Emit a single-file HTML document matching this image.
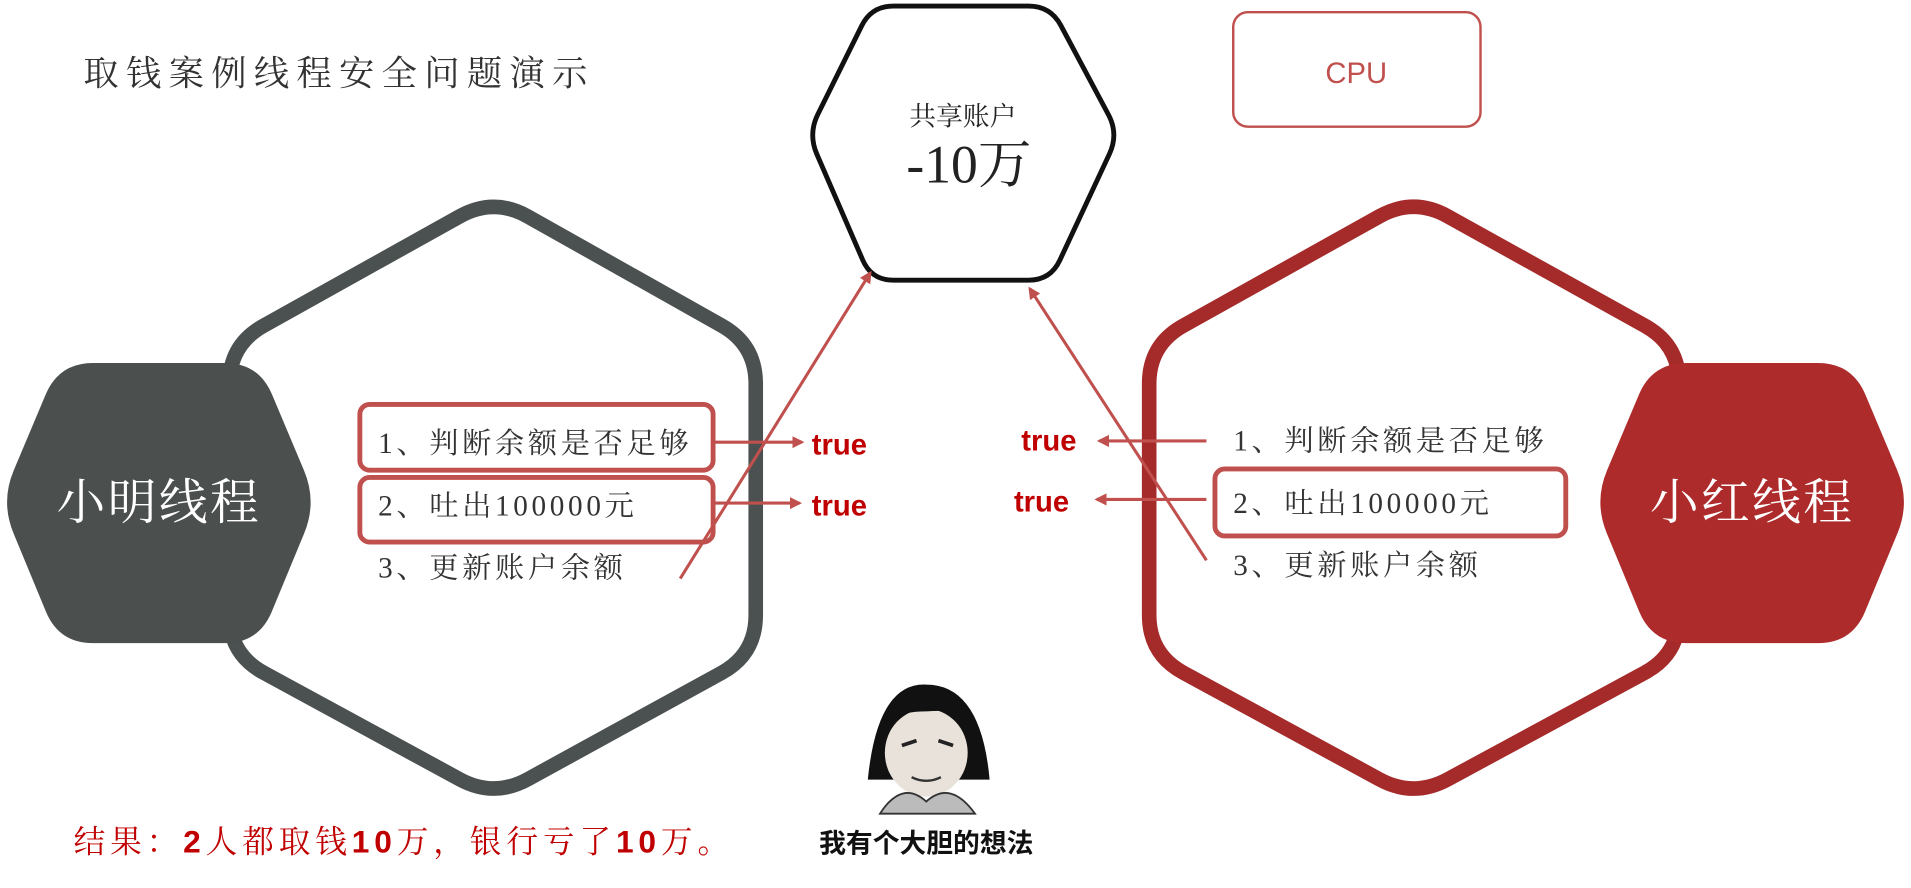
<!DOCTYPE html>
<html><head><meta charset="utf-8"><style>
html,body{margin:0;padding:0;background:#fff;}
svg{display:block;}
text{font-family:"Liberation Sans","Noto Sans CJK SC",sans-serif;}
.s{font-family:"Liberation Serif","Noto Serif CJK SC",serif;}
</style></head><body>
<svg width="1911" height="888" viewBox="0 0 1568 729" xmlns="http://www.w3.org/2000/svg">
<defs>
<marker id="a" markerWidth="10" markerHeight="10" refX="8" refY="5" orient="auto" markerUnits="userSpaceOnUse">
<path d="M0,0 L10,5 L0,10 z" fill="#c0504d"/></marker>
</defs>
<text x="68" y="70" font-size="29" fill="#333" class="s" letter-spacing="6">取钱案例线程安全问题演示</text>
<path class="rh" data-r="18" data-p="663,110 715,5 862,5 918,110 862,230 715,230" fill="#fff" stroke="#111" stroke-width="4"/>
<text x="790" y="103" font-size="22" text-anchor="middle" class="s" fill="#222">共享账户</text>
<text x="795" y="150" font-size="44" text-anchor="middle" class="s" fill="#222">-10万</text>
<rect x="1012" y="10" width="203" height="94" rx="12" fill="#fff" stroke="#c0504d" stroke-width="2"/>
<text x="1113" y="68" font-size="24" text-anchor="middle" fill="#c0504d">CPU</text>
<path class="rh" data-r="32" data-p="405,162 620,283 620,537 405,655 188,537 188,283" fill="none" stroke="#4b5150" stroke-width="12"/>
<path class="rh" data-r="28" data-p="0,412 48,298 212,298 260,412 212,528 48,528" fill="#4b4f4e"/>
<text x="130" y="426" font-size="40" text-anchor="middle" fill="#fff" class="s" letter-spacing="2">小明线程</text>
<path class="rh" data-r="32" data-p="1160,162 1378,283 1378,537 1160,655 943,537 943,283" fill="none" stroke="#a52a2a" stroke-width="12"/>
<path class="rh" data-r="28" data-p="1308,412 1356,298 1520,298 1568,412 1520,528 1356,528" fill="#ad2b2b"/>
<text x="1438" y="426" font-size="40" text-anchor="middle" fill="#fff" class="s" letter-spacing="2">小红线程</text>
<rect x="295" y="332" width="290" height="54" rx="8" fill="none" stroke="#c0504d" stroke-width="4"/>
<rect x="295" y="392" width="290" height="53" rx="8" fill="none" stroke="#c0504d" stroke-width="4"/>
<text x="310" y="372" font-size="24" class="s" fill="#333" letter-spacing="3">1、判断余额是否足够</text>
<text x="310" y="423" font-size="24" class="s" fill="#333" letter-spacing="3">2、吐出100000元</text>
<text x="310" y="474" font-size="24" class="s" fill="#333" letter-spacing="3">3、更新账户余额</text>
<line x1="585" y1="363" x2="658" y2="363" stroke="#c0504d" stroke-width="2.5" marker-end="url(#a)"/>
<line x1="585" y1="413" x2="656" y2="413" stroke="#c0504d" stroke-width="2.5" marker-end="url(#a)"/>
<text x="666" y="373" font-size="24" font-weight="bold" fill="#c00000">true</text>
<text x="666" y="423" font-size="24" font-weight="bold" fill="#c00000">true</text>
<line x1="558" y1="475" x2="714" y2="224" stroke="#c0504d" stroke-width="2.5" marker-end="url(#a)"/>
<rect x="997" y="385" width="288" height="55" rx="8" fill="none" stroke="#c0504d" stroke-width="4"/>
<text x="1012" y="370" font-size="24" class="s" fill="#333" letter-spacing="3">1、判断余额是否足够</text>
<text x="1012" y="421" font-size="24" class="s" fill="#333" letter-spacing="3">2、吐出100000元</text>
<text x="1012" y="472" font-size="24" class="s" fill="#333" letter-spacing="3">3、更新账户余额</text>
<line x1="990" y1="362" x2="902" y2="362" stroke="#c0504d" stroke-width="2.5" marker-end="url(#a)"/>
<line x1="990" y1="410" x2="900" y2="410" stroke="#c0504d" stroke-width="2.5" marker-end="url(#a)"/>
<text x="838" y="370" font-size="24" font-weight="bold" fill="#c00000">true</text>
<text x="832" y="420" font-size="24" font-weight="bold" fill="#c00000">true</text>
<line x1="990" y1="460" x2="845" y2="237" stroke="#c0504d" stroke-width="2.5" marker-end="url(#a)"/>
<text x="60" y="700" font-size="26" fill="#c00000" class="s" letter-spacing="4">结果：<tspan font-weight="bold" font-family="Liberation Sans">2</tspan>人都取钱<tspan font-weight="bold" font-family="Liberation Sans">10</tspan>万，银行亏了<tspan font-weight="bold" font-family="Liberation Sans">10</tspan>万。</text>
<g>
<path d="M712,640 Q720,560 760,562 Q805,562 812,640 Z" fill="#111"/>
<ellipse cx="760" cy="618" rx="34" ry="36" fill="#e8e2da"/>
<path d="M722,608 Q724,572 760,572 Q798,572 800,608 L800,590 Q790,582 760,584 Q732,584 722,598 Z" fill="#111"/>
<path d="M740,612 l12,-4 M770,608 l12,4" stroke="#222" stroke-width="3"/>
<path d="M748,638 q12,6 24,0" stroke="#333" stroke-width="2" fill="none"/>
<path d="M722,668 Q740,640 760,658 Q780,640 800,668 Z" fill="#bbb" stroke="#333" stroke-width="1.5"/>
</g>
<text x="760" y="700" font-size="22" font-weight="bold" text-anchor="middle" fill="#111">我有个大胆的想法</text>
</svg>
<script>
document.querySelectorAll('path.rh').forEach(function(el){
  var r=+el.getAttribute('data-r');
  var p=el.getAttribute('data-p').trim().split(/\s+/).map(function(s){return s.split(',').map(Number);});
  var n=p.length,d='';
  for(var i=0;i<n;i++){
    var a=p[(i-1+n)%n],b=p[i],c=p[(i+1)%n];
    var l1=Math.hypot(a[0]-b[0],a[1]-b[1]),l2=Math.hypot(c[0]-b[0],c[1]-b[1]);
    var s=[b[0]+(a[0]-b[0])*r/l1,b[1]+(a[1]-b[1])*r/l1];
    var e=[b[0]+(c[0]-b[0])*r/l2,b[1]+(c[1]-b[1])*r/l2];
    d+=(i?'L':'M')+s[0]+','+s[1]+'Q'+b[0]+','+b[1]+' '+e[0]+','+e[1];
  }
  el.setAttribute('d',d+'Z');
});
</script>
</body></html>
